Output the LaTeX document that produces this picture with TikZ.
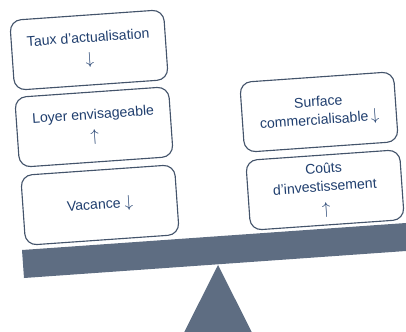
\documentclass[tikz,border=0pt]{standalone}
\usepackage{fontspec}
\setmainfont{Liberation Sans}
\usetikzlibrary{shapes,positioning}
\definecolor{slate}{HTML}{5E6D82}
\definecolor{inkblue}{HTML}{1F3E6E}
\definecolor{edge}{HTML}{44546B}
\newcommand{\dn}{{\fontsize{12}{16}\selectfont$\downarrow$}}
\newcommand{\up}{{\fontsize{12}{16}\selectfont$\uparrow$}}

\begin{document}
\begin{tikzpicture}[x=0.025cm, y=-0.025cm,
    box/.style={draw=edge, line width=0.8pt, fill=white, rounded corners=8pt, minimum width=3.85cm, minimum height=1.75cm, align=center, rotate=4, text=inkblue, font=\fontsize{10}{16}\selectfont},
    beam/.style={fill=slate}
]
\useasboundingbox (0,0) rectangle (406,331);
\clip (0,0) rectangle (406,331);

% Fulcrum and beam
\fill[beam] (218,265) -- (150,400) -- (286,400) -- cycle;
\fill[beam] (22,250) -- (420,222) -- (420,250) -- (24,278) -- cycle;

% Left pan
\node[box] (taux) at (89,50) {Taux d'actualisation\\\dn};
\node[box] (loyer) at (94,127) {Loyer envisageable\\\up};
\node[box] (vacance) at (100,205) {Vacance \dn};

% Right pan
\node[box] (surface) at (319,112) {Surface\\[-3pt]commercialisable\,\dn};
\node[box] (couts) at (325,190) {Coûts\\[-3pt]d'investissement\\\up};

\end{tikzpicture}
\end{document}
